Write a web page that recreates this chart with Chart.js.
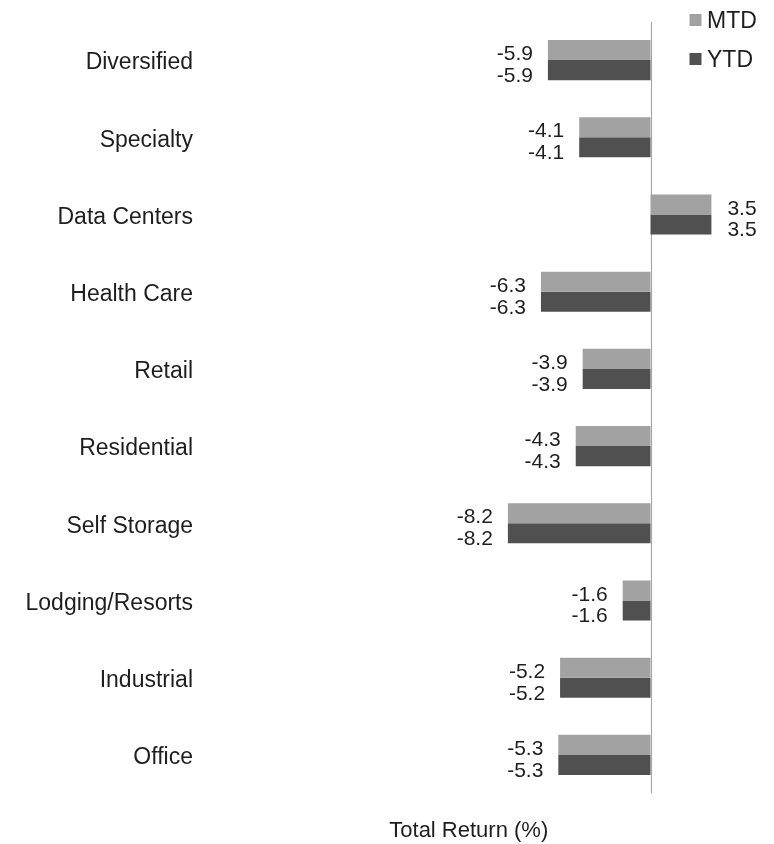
<!DOCTYPE html>
<html>
<head>
<meta charset="utf-8">
<script src="https://cdn.jsdelivr.net/npm/chart.js@4/dist/chart.umd.min.js"></script>
<style>
  html, body { margin: 0; padding: 0; background: #ffffff; }
  #wrap { width: 774px; height: 844px; position: relative; }
</style>
</head>
<body>
<div id="wrap"><canvas id="c" width="774" height="844"></canvas></div>
<script>
const categories = ["Diversified", "Specialty", "Data Centers", "Health Care", "Retail",
  "Residential", "Self Storage", "Lodging/Resorts", "Industrial", "Office"];
const mtdValues = [-5.9, -4.1, 3.5, -6.3, -3.9, -4.3, -8.2, -1.6, -5.2, -5.3];
const ytdValues = [-5.9, -4.1, 3.5, -6.3, -3.9, -4.3, -8.2, -1.6, -5.2, -5.3];
const seriesNames = ["MTD", "YTD"];
const axisTitle = "Total Return (%)";

const FONT = "'Liberation Sans', Arial, sans-serif";
const TEXT = "#1e1e1e";
const COLORS = ["#a2a2a2", "#505050"];

const valueLabels = {
  id: "valueLabels",
  afterDatasetsDraw(chart) {
    const ctx = chart.ctx;
    ctx.save();
    ctx.font = "21px " + FONT;
    ctx.fillStyle = TEXT;
    ctx.textBaseline = "alphabetic";
    const dy = [10.2, 11.8];
    chart.data.datasets.forEach((ds, di) => {
      const meta = chart.getDatasetMeta(di);
      meta.data.forEach((bar, i) => {
        const v = ds.data[i];
        const txt = v.toFixed(1);
        if (v < 0) {
          ctx.textAlign = "right";
          ctx.fillText(txt, bar.x - 15, bar.y + dy[di]);
        } else {
          ctx.textAlign = "left";
          ctx.fillText(txt, bar.x + 16, bar.y + dy[di]);
        }
      });
    });
    ctx.restore();
  }
};

const zeroLine = {
  id: "zeroLine",
  beforeDatasetsDraw(chart) {
    const x = Math.round(chart.scales.x.getPixelForValue(0)) + 0.5;
    const a = chart.chartArea;
    const ctx = chart.ctx;
    ctx.save();
    ctx.strokeStyle = "#a8a8a8";
    ctx.lineWidth = 1.2;
    ctx.beginPath();
    ctx.moveTo(x, a.top + 0.5);
    ctx.lineTo(x, a.bottom);
    ctx.stroke();
    ctx.restore();
  }
};

const customLegend = {
  id: "customLegend",
  afterDraw(chart) {
    const ctx = chart.ctx;
    ctx.save();
    ctx.font = "23px " + FONT;
    ctx.textBaseline = "alphabetic";
    ctx.textAlign = "left";
    const ys = [20, 59];
    seriesNames.forEach((name, i) => {
      ctx.fillStyle = COLORS[i];
      ctx.fillRect(689.5, ys[i] - 6, 12, 12);
      ctx.fillStyle = TEXT;
      ctx.fillText(name, 707, ys[i] + 8.2);
    });
    ctx.restore();
  }
};

new Chart(document.getElementById("c"), {
  type: "bar",
  data: {
    labels: categories,
    datasets: [
      { label: seriesNames[0], data: mtdValues, backgroundColor: COLORS[0],
        borderWidth: 0, categoryPercentage: 0.52, barPercentage: 1.0 },
      { label: seriesNames[1], data: ytdValues, backgroundColor: COLORS[1],
        borderWidth: 0, categoryPercentage: 0.52, barPercentage: 1.0 }
    ]
  },
  options: {
    indexAxis: "y",
    responsive: false,
    animation: false,
    devicePixelRatio: 1,
    layout: { padding: { top: 21.5, right: 36.5, left: 0, bottom: 0 } },
    plugins: {
      legend: { display: false },
      tooltip: { enabled: false },
      title: { display: false }
    },
    scales: {
      x: {
        min: -25.9,
        max: 5,
        grid: { display: false, drawTicks: false },
        border: { display: false },
        ticks: { display: false },
        title: {
          display: true,
          text: axisTitle,
          color: TEXT,
          font: { family: FONT, size: 22 },
          padding: { top: 0, bottom: 0 }
        },
        afterFit(scale) { scale.height = 50.5; }
      },
      y: {
        grid: { display: false, drawTicks: false },
        border: { display: false },
        ticks: {
          color: TEXT,
          font: { family: FONT, size: 23 },
          padding: 7,
          labelOffset: 3
        },
        afterFit(scale) { scale.width = 200; }
      }
    }
  },
  plugins: [zeroLine, valueLabels, customLegend]
});
</script>
</body>
</html>
